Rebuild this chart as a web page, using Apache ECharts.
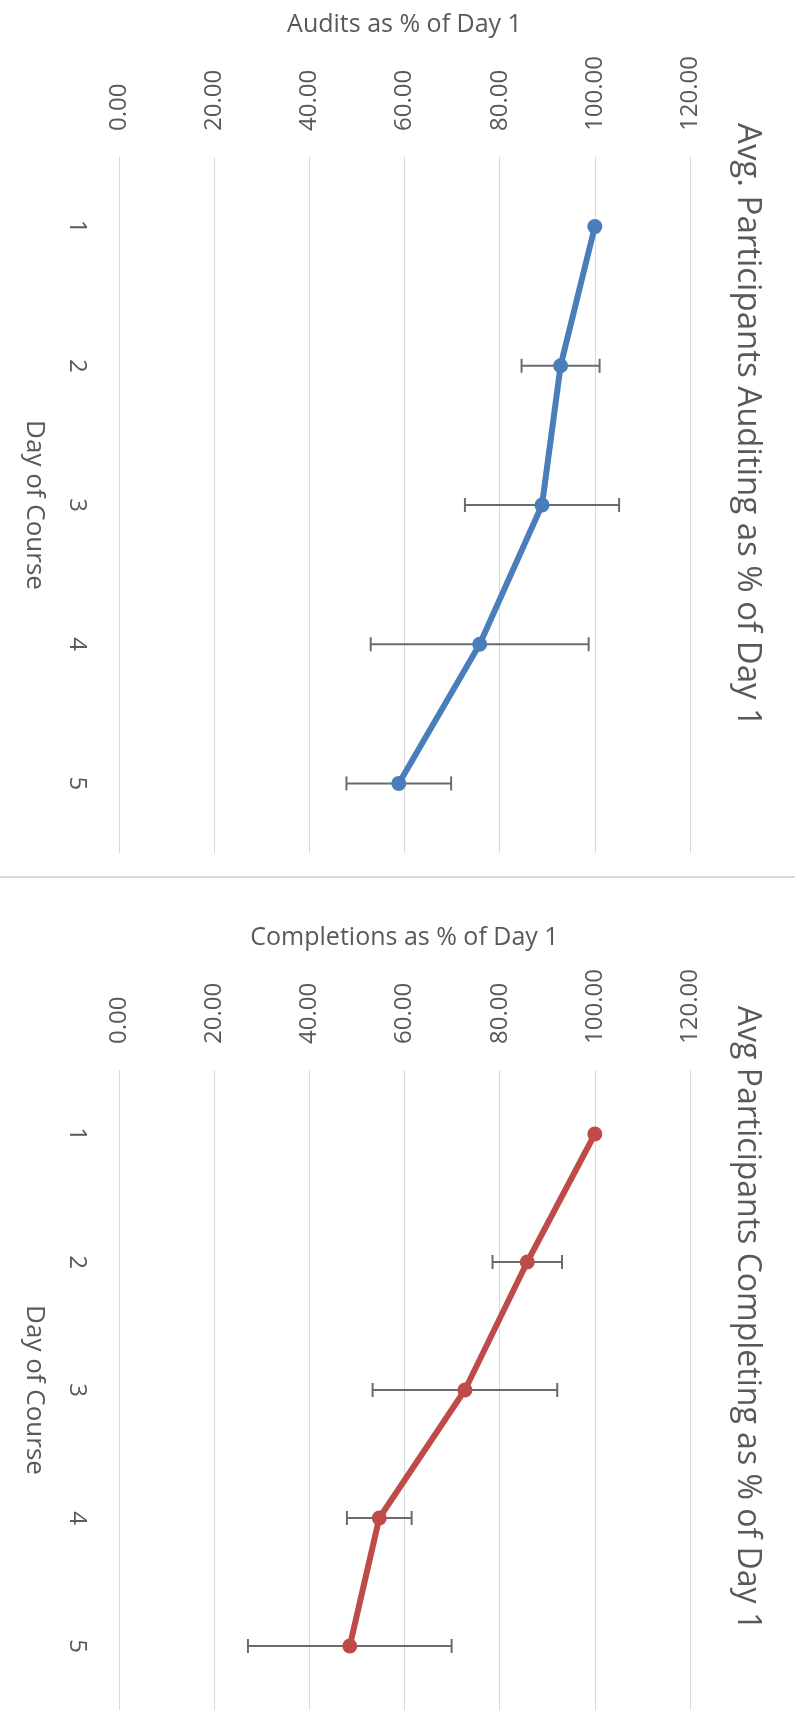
<!DOCTYPE html>
<html>
<head>
<meta charset="utf-8">
<script src="https://cdn.jsdelivr.net/npm/echarts@6/dist/echarts.min.js"></script>
<style>
html,body{margin:0;padding:0;background:#fff;}
#chart{width:795px;height:1710px;}
</style>
</head>
<body>
<div id="chart"></div>
<script>
// ---- data ----
const days = ['1', '2', '3', '4', '5'];
const valueTicks = [0, 20, 40, 60, 80, 100, 120];
const auditValues = [100, 92.8, 88.9, 75.8, 58.8];
const auditErrors = [0, 8.2, 16.2, 22.9, 11.0];
const completionValues = [100, 85.8, 72.7, 54.7, 48.5];
const completionErrors = [0, 7.3, 19.4, 6.8, 21.4];

const titles = ['Avg. Participants Auditing as % of Day 1', 'Avg Participants Completing as % of Day 1'];
const valueAxisNames = ['Audits as % of Day 1', 'Completions as % of Day 1'];
const categoryAxisName = 'Day of Course';

const FONT = '"Open Sans", "Noto Sans", sans-serif';
const TEXT = '#595959';
const GRID = '#d9d9d9';
const ERR = '#6b6b6b';

const grids = [
  {left: 119, width: 571, top: 157, height: 696},
  {left: 119, width: 571, top: 1070, height: 684}
];

function xAxisFor(i) {
  return {
    type: 'value', gridIndex: i, position: 'top',
    min: valueTicks[0], max: valueTicks[valueTicks.length - 1],
    interval: valueTicks[1] - valueTicks[0],
    axisLine: {show: false}, axisTick: {show: false},
    splitLine: {show: true, lineStyle: {color: GRID, width: 1}},
    axisLabel: {rotate: -90, margin: 26, fontSize: 24, color: TEXT, fontFamily: FONT,
      formatter: v => v.toFixed(2)},
    name: valueAxisNames[i], nameLocation: 'middle', nameGap: 120,
    nameTextStyle: {fontSize: 25, color: TEXT, fontFamily: FONT}
  };
}
function yAxisFor(i) {
  return {
    type: 'category', gridIndex: i, data: days, inverse: true,
    axisLine: {show: false}, axisTick: {show: false},
    axisLabel: {rotate: -90, margin: 30, fontSize: 24, color: TEXT, fontFamily: FONT},
    name: categoryAxisName, nameLocation: 'middle', nameRotate: -90, nameGap: 72,
    nameTextStyle: {fontSize: 26, color: TEXT, fontFamily: FONT}
  };
}

function lineSeries(i, vals, color) {
  return {
    type: 'line', xAxisIndex: i, yAxisIndex: i,
    data: vals.map((v, k) => [v, days[k]]),
    symbol: 'circle', symbolSize: 15, z: 3,
    lineStyle: {color: color, width: 6},
    itemStyle: {color: color},
    animation: false
  };
}
function errorSeries(i, vals, errs) {
  return {
    type: 'custom', xAxisIndex: i, yAxisIndex: i, z: 2,
    data: vals.map((v, k) => [v, k, errs[k]]),
    encode: {x: 0, y: 1},
    renderItem: function (params, api) {
      const v = api.value(0), c = api.value(1), e = api.value(2);
      if (!e) return null;
      const lo = api.coord([v - e, c]);
      const hi = api.coord([v + e, c]);
      const cap = 7;
      const st = {stroke: ERR, lineWidth: 2};
      return {type: 'group', children: [
        {type: 'line', shape: {x1: lo[0], y1: lo[1], x2: hi[0], y2: hi[1]}, style: st},
        {type: 'line', shape: {x1: lo[0], y1: lo[1] - cap, x2: lo[0], y2: lo[1] + cap}, style: st},
        {type: 'line', shape: {x1: hi[0], y1: hi[1] - cap, x2: hi[0], y2: hi[1] + cap}, style: st}
      ]};
    },
    animation: false
  };
}

const chart = echarts.init(document.getElementById('chart'));
chart.setOption({
  backgroundColor: '#fff',
  animation: false,
  grid: grids,
  xAxis: [xAxisFor(0), xAxisFor(1)],
  yAxis: [yAxisFor(0), yAxisFor(1)],
  series: [
    errorSeries(0, auditValues, auditErrors),
    lineSeries(0, auditValues, '#4a7ebb'),
    errorSeries(1, completionValues, completionErrors),
    lineSeries(1, completionValues, '#be4b48')
  ],
  graphic: [
    {type: 'text', x: 747, y: 425, rotation: -Math.PI / 2,
      style: {text: titles[0], fontSize: 33, fill: TEXT, fontFamily: FONT, align: 'center', verticalAlign: 'middle'}},
    {type: 'text', x: 747, y: 1318, rotation: -Math.PI / 2,
      style: {text: titles[1], fontSize: 32, fill: TEXT, fontFamily: FONT, align: 'center', verticalAlign: 'middle'}},
    {type: 'line', shape: {x1: 0, y1: 877, x2: 795, y2: 877}, style: {stroke: '#d9d9d9', lineWidth: 2}}
  ]
});
</script>
</body>
</html>
